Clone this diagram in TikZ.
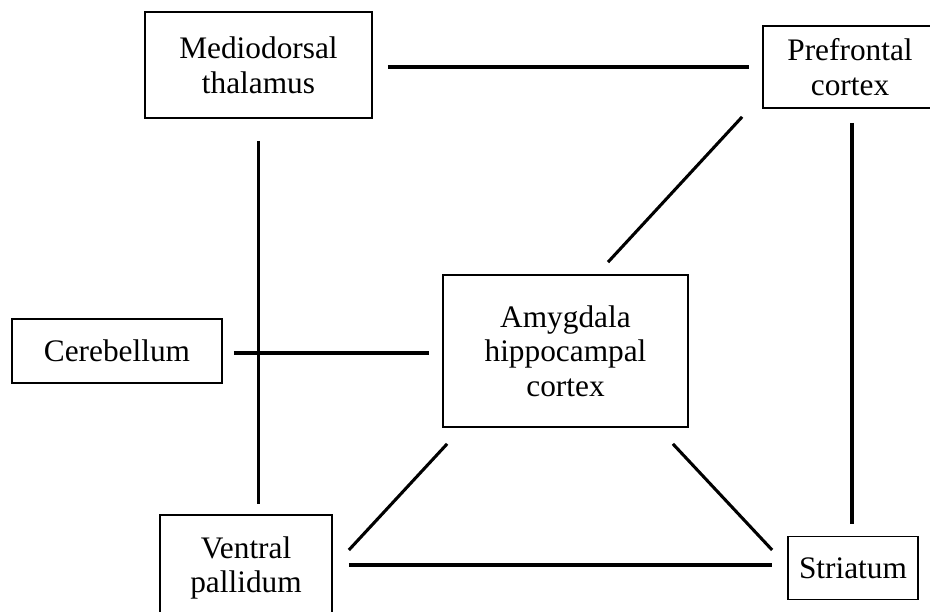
\documentclass[tikz,border=0pt]{standalone}
\usepackage{fontspec}
\setmainfont{Liberation Serif}
\usetikzlibrary{calc}
\begin{document}
\begin{tikzpicture}[x=0.75pt,y=-0.75pt,
  region/.style={draw=black,line width=1.3pt,inner sep=0pt,align=center,
    font=\fontsize{23.5}{26}\selectfont},
  boxline/.style={draw=black,line width=1.3pt},
  link/.style={draw=black,line width=2.3pt}]
\useasboundingbox (0,0) rectangle (930,611);
\clip (0,0) rectangle (930,611);
\node[region,draw=none,minimum width=172*0.75pt,minimum height=80*0.75pt] (pf) at (850,67) {Prefrontal\\cortex};
\draw[boxline] ($(pf.north east)+(150,0)$) -- (pf.north west) -- (pf.south west) -- ($(pf.south east)+(150,0)$);
\node[region,minimum width=227*0.75pt,minimum height=106*0.75pt] (md) at (258.5,65) {Mediodorsal\\thalamus};
\node[region,minimum width=245*0.75pt,minimum height=152*0.75pt] (am) at (565.5,351) {Amygdala\\hippocampal\\cortex};
\node[region,minimum width=210*0.75pt,minimum height=64*0.75pt] (ce) at (117,351) {Cerebellum};
\node[region,minimum width=172*0.75pt,minimum height=106*0.75pt] (vp) at (246,568) {Ventral\\pallidum};
\node[region,minimum width=130*0.75pt,minimum height=63*0.75pt] (st) at (853,568) {Striatum};
\draw[link] ($(md.east)+(15,2)$) -- ($(pf.west)+(-14,0)$);
\draw[link] ($(md.south)+(0,22)$) -- ($(md.south |- vp.north)+(0,-10)$);
\draw[link] ($(st.north |- pf.south)+(-1,15)$) -- ($(st.north)+(-1,-12)$);
\draw[link] ($(pf.south west)+(-21,9)$) -- ($(am.north)+(42.5,-12)$);
\draw[link] ($(ce.east)+(11,2)$) -- ($(am.west)+(-13,2)$);
\draw[link] ($(am.south west)+(5,16)$) -- ($(vp.east)+(16,-18)$);
\draw[link] ($(am.south east)+(-16,16)$) -- ($(st.west)+(-15,-18)$);
\draw[link] ($(vp.east)+(16,-3)$) -- ($(st.west)+(-15,-3)$);
\end{tikzpicture}
\end{document}
